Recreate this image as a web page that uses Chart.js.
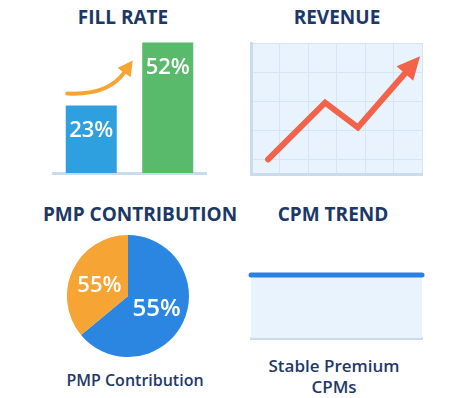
<!DOCTYPE html>
<html>
<head>
<meta charset="utf-8">
<script src="https://cdn.jsdelivr.net/npm/chart.js@4.4.1/dist/chart.umd.min.js"></script>
<style>
  html, body { margin: 0; padding: 0; background: #fff; }
  body { width: 462px; height: 398px; position: relative; overflow: hidden;
         font-family: "Open Sans", "DejaVu Sans", sans-serif; color: #1b3866; }
  .titulo { position: absolute; font-weight: 700; font-size: 19px; text-align: center;
            transform: translateX(-50%); white-space: nowrap; line-height: 1; }
  .pie { position: absolute; font-size: 16px; text-align: center; transform: translateX(-50%);
         white-space: nowrap; line-height: 21px; font-weight: 600; color: #1e3a68; }
  .caja { position: absolute; }
  .caja canvas { display: block; }
</style>
</head>
<body>

<div class="titulo" style="left:123px; top:8px;">FILL RATE</div>
<div class="titulo" style="left:337px; top:8px;">REVENUE</div>
<div class="titulo" style="left:140px; top:205px;">PMP CONTRIBUTION</div>
<div class="titulo" style="left:333px; top:205px;">CPM TREND</div>

<div class="caja" style="left:50px; top:20px; width:160px; height:157px;"><canvas id="cFill"></canvas></div>
<div class="caja" style="left:245px; top:38px; width:184px; height:142px;"><canvas id="cRevenue"></canvas></div>
<div class="caja" style="left:67px; top:235px; width:122px; height:122px;"><canvas id="cPmp"></canvas></div>
<div class="caja" style="left:245px; top:268px; width:184px; height:74px;"><canvas id="cCpm"></canvas></div>

<div class="pie" style="left:135px; top:370px;">PMP Contribution</div>
<div class="pie" style="left:334px; top:355px; font-size:17px;">Stable Premium<br>CPMs</div>

<script>
// ─── Datos ────────────────────────────────────────────────
const fillCategorias = ['Antes', 'Después'];
const fillValores    = [23, 52];
const fillEtiquetas  = ['23%', '52%'];

const revenueX = [0.6, 2.6, 3.75, 5.4];
const revenueY = [0, 1.95, 1.1, 2.95];

const pmpCategorias = ['PMP', 'Open'];
const pmpValores    = [64, 36];
const pmpEtiquetas  = ['55%', '55%'];

const cpmX = [0, 1, 2, 3, 4, 5, 6];
const cpmY = [5, 5, 5, 5, 5, 5, 5];

// ─── Colores ──────────────────────────────────────────────
const AZUL_BARRA  = '#2ea0df';
const VERDE_BARRA = '#59ba6c';
const NARANJA     = '#f6a433';
const ROJO_LINEA  = '#f1634a';
const AZUL_PIE    = '#2b86e2';
const AZUL_CPM    = '#2b80dd';
const FONDO_AREA  = '#e9f3fd';
const GRID        = '#d5e5f4';
const EJE         = '#c8dcee';

Chart.defaults.animation = false;
Chart.defaults.responsive = true;
Chart.defaults.maintainAspectRatio = false;
Chart.defaults.plugins.legend.display = false;
Chart.defaults.plugins.tooltip.enabled = false;

// Etiquetas de texto dentro de las barras + flecha naranja
const etiquetasBarras = {
    id: 'etiquetasBarras',
    afterDatasetsDraw(chart) {
        const ctx = chart.ctx;
        const barras = chart.getDatasetMeta(0).data;
        ctx.save();
        ctx.fillStyle = '#fff';
        ctx.font = '600 22px "Open Sans", sans-serif';
        ctx.textAlign = 'center';
        ctx.textBaseline = 'middle';
        barras.forEach((b, i) => ctx.fillText(fillEtiquetas[i], b.x, b.y + 25));

        const a = barras[0], c = barras[1];
        const x0 = a.x - 24, y0 = a.y - 12;
        const xt = c.x - 35, yt = c.y + 18;
        const cx = (x0 + xt) / 2 + 8, cy = y0 + 2;
        const ang = Math.atan2(yt - cy, xt - cx);
        const largo = 15, ancho = 8;
        const bx = xt - largo * Math.cos(ang), by = yt - largo * Math.sin(ang);
        ctx.strokeStyle = NARANJA;
        ctx.fillStyle = NARANJA;
        ctx.lineWidth = 4;
        ctx.lineCap = 'round';
        ctx.beginPath();
        ctx.moveTo(x0, y0);
        ctx.quadraticCurveTo(cx, cy, bx, by);
        ctx.stroke();
        ctx.beginPath();
        ctx.moveTo(xt, yt);
        ctx.lineTo(bx + ancho * Math.sin(ang), by - ancho * Math.cos(ang));
        ctx.lineTo(bx - ancho * Math.sin(ang), by + ancho * Math.cos(ang));
        ctx.closePath();
        ctx.fill();
        ctx.restore();
    }
};

// Fondo celeste del área del gráfico
const fondoArea = {
    id: 'fondoArea',
    beforeDraw(chart) {
        const { ctx, chartArea: a } = chart;
        ctx.save();
        ctx.fillStyle = FONDO_AREA;
        ctx.fillRect(a.left, a.top, a.right - a.left, a.bottom - a.top);
        ctx.restore();
    }
};

// Punta de flecha al final de la línea
const puntaFlecha = {
    id: 'puntaFlecha',
    afterDatasetsDraw(chart) {
        const pts = chart.getDatasetMeta(0).data;
        const p1 = pts[pts.length - 2], p2 = pts[pts.length - 1];
        const ang = Math.atan2(p2.y - p1.y, p2.x - p1.x);
        const largo = 23, ancho = 11;
        const ctx = chart.ctx;
        ctx.save();
        ctx.fillStyle = ROJO_LINEA;
        ctx.beginPath();
        ctx.moveTo(p2.x + largo * Math.cos(ang), p2.y + largo * Math.sin(ang));
        ctx.lineTo(p2.x + ancho * Math.sin(ang), p2.y - ancho * Math.cos(ang));
        ctx.lineTo(p2.x - ancho * Math.sin(ang), p2.y + ancho * Math.cos(ang));
        ctx.closePath();
        ctx.fill();
        ctx.restore();
    }
};

// Etiquetas del pastel
const etiquetasPastel = {
    id: 'etiquetasPastel',
    afterDatasetsDraw(chart) {
        const ctx = chart.ctx;
        const tam = [24, 22];
        ctx.save();
        ctx.fillStyle = '#fff';
        ctx.textAlign = 'center';
        ctx.textBaseline = 'middle';
        chart.getDatasetMeta(0).data.forEach((arc, i) => {
            const p = arc.tooltipPosition();
            ctx.font = '600 ' + tam[i] + 'px "Open Sans", sans-serif';
            ctx.fillText(pmpEtiquetas[i], p.x + (i === 0 ? 1 : -1), p.y + (i === 0 ? 0 : 3));
        });
        ctx.restore();
    }
};

// ─── Gráfico 1: Fill Rate ─────────────────────────────────
new Chart(document.getElementById('cFill'), {
    type: 'bar',
    data: {
        labels: fillCategorias,
        datasets: [{
            data: fillValores,
            base: -8,
            backgroundColor: [AZUL_BARRA, VERDE_BARRA],
            borderWidth: 0,
            categoryPercentage: 1,
            barPercentage: 0.667
        }]
    },
    options: {
        layout: { padding: { left: 3, right: 4, top: 5, bottom: 4 } },
        scales: {
            x: {
                grid: { display: false, drawTicks: false },
                ticks: { display: false },
                border: { display: true, color: EJE, width: 3 }
            },
            y: { display: false, min: -8, max: 60 }
        }
    },
    plugins: [etiquetasBarras]
});

// ─── Gráfico 2: Revenue ───────────────────────────────────
new Chart(document.getElementById('cRevenue'), {
    type: 'line',
    data: {
        datasets: [{
            data: revenueX.map((x, i) => ({ x, y: revenueY[i] })),
            borderColor: ROJO_LINEA,
            borderWidth: 6,
            borderCapStyle: 'round',
            borderJoinStyle: 'miter',
            pointRadius: 0,
            tension: 0
        }]
    },
    options: {
        layout: { padding: { left: 6, right: 7, top: 5, bottom: 6 } },
        scales: {
            x: {
                type: 'linear', min: 0, max: 6,
                ticks: { display: false, stepSize: 1 },
                grid: { color: GRID, drawTicks: false },
                border: { color: EJE, width: 3 }
            },
            y: {
                min: -0.5, max: 4,
                ticks: { display: false, stepSize: 1 },
                grid: { color: GRID, drawTicks: false },
                border: { color: EJE, width: 3 }
            }
        }
    },
    plugins: [fondoArea, puntaFlecha]
});

// ─── Gráfico 3: PMP Contribution ──────────────────────────
new Chart(document.getElementById('cPmp'), {
    type: 'pie',
    data: {
        labels: pmpCategorias,
        datasets: [{
            data: pmpValores,
            backgroundColor: [AZUL_PIE, NARANJA],
            borderWidth: 0,
            hoverOffset: 0
        }]
    },
    options: { layout: { padding: 0 } },
    plugins: [etiquetasPastel]
});

// ─── Gráfico 4: CPM Trend ─────────────────────────────────
new Chart(document.getElementById('cCpm'), {
    type: 'line',
    data: {
        datasets: [{
            data: cpmX.map((x, i) => ({ x, y: cpmY[i] })),
            borderColor: AZUL_CPM,
            borderWidth: 5,
            borderCapStyle: 'round',
            pointRadius: 0,
            clip: 6,
            fill: 'start',
            backgroundColor: FONDO_AREA
        }]
    },
    options: {
        layout: { padding: { left: 6, right: 7, top: 7, bottom: 4 } },
        scales: {
            x: {
                type: 'linear', min: 0, max: 6,
                ticks: { display: false },
                grid: { display: false, drawTicks: false },
                border: { color: EJE, width: 3 }
            },
            y: { display: false, min: 0, max: 5 }
        }
    }
});
</script>
</body>
</html>
